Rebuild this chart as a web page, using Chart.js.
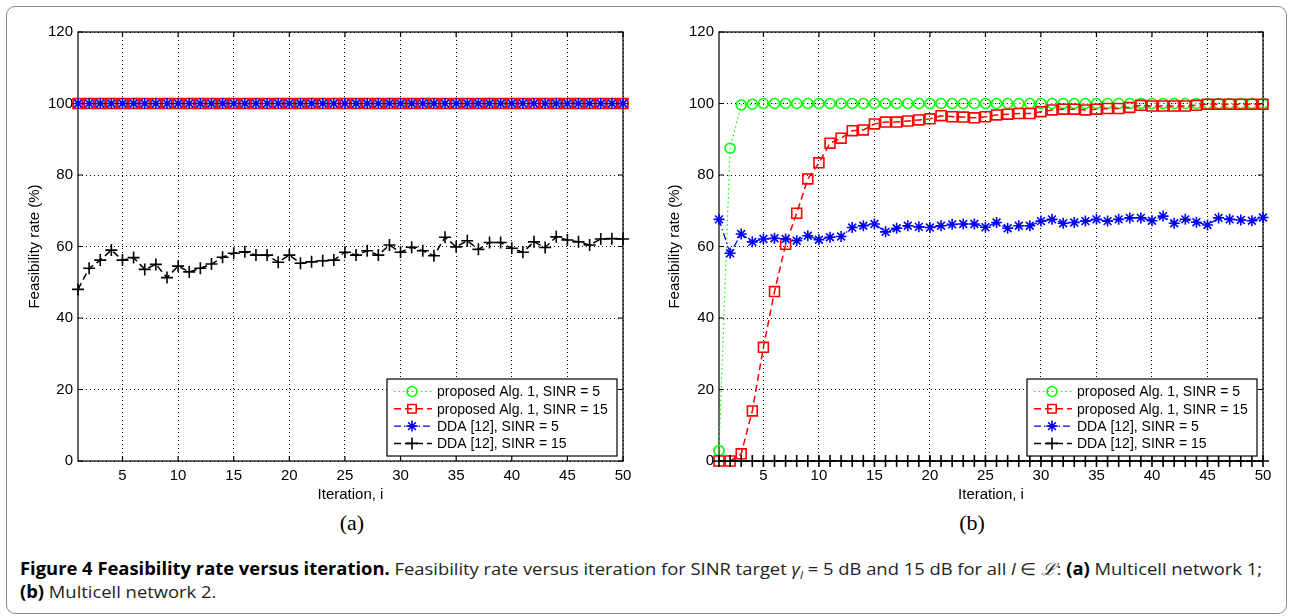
<!DOCTYPE html>
<html>
<head>
<meta charset="utf-8">
<script src="https://cdn.jsdelivr.net/npm/chart.js@4.4.0/dist/chart.umd.min.js"></script>
<style>
body{margin:0;background:#fff;width:1292px;height:616px;position:relative;overflow:hidden}
#frame{position:absolute;left:6px;top:6px;width:1281px;height:608px;border:1px solid #8c8c8c;border-radius:9px;box-sizing:border-box}
canvas{position:absolute;top:0}
#cA{left:0}
#cB{left:640px}
.sub{position:absolute;top:510px;width:60px;text-align:center;font:22px "Liberation Serif",serif;color:#000}
.cap{position:absolute;left:20px;font:17px "Open Sans",sans-serif;line-height:20px;color:#231f20;white-space:nowrap;transform-origin:0 0}
.cap b{color:#000}
</style>
</head>
<body>
<div id="frame"></div>
<canvas id="cA" width="645" height="510"></canvas>
<canvas id="cB" width="650" height="510"></canvas>
<div class="sub" style="left:322px">(a)</div>
<div class="sub" style="left:942px">(b)</div>
<div class="cap" id="cap1" style="top:559px"><b>Figure 4 Feasibility rate versus iteration.</b> Feasibility rate versus iteration for SINR target <i>γ</i><sub style="font-size:11px"><i>l</i></sub> = 5 dB and 15 dB for all <i>l</i> ∈ <i>ℒ</i>: <b>(a)</b> Multicell network 1;</div>
<div class="cap" id="cap2" style="top:582px"><b>(b)</b> Multicell network 2.</div>
<script>
/* DATA */
const iterations = [1,2,3,4,5,6,7,8,9,10,11,12,13,14,15,16,17,18,19,20,21,22,23,24,25,
26,27,28,29,30,31,32,33,34,35,36,37,38,39,40,41,42,43,44,45,46,47,48,49,50]
const xTicks = [5,10,15,20,25,30,35,40,45,50]
const yTicks = [0,20,40,60,80,100,120]
const seriesNames = ["proposed Alg. 1, SINR = 5","proposed Alg. 1, SINR = 15","DDA [12], SINR = 5","DDA [12], SINR = 15"]

// (a) Multicell network 1
const netA_alg5 = [100,100,100,100,100,100,100,100,100,100,100,100,100,100,100,100,100,100,100,100,100,100,100,100,100,
100,100,100,100,100,100,100,100,100,100,100,100,100,100,100,100,100,100,100,100,100,100,100,100,100]
const netA_alg15 = [100,100,100,100,100,100,100,100,100,100,100,100,100,100,100,100,100,100,100,100,100,100,100,100,100,
100,100,100,100,100,100,100,100,100,100,100,100,100,100,100,100,100,100,100,100,100,100,100,100,100]
const netA_dda5 = [100,100,100,100,100,100,100,100,100,100,100,100,100,100,100,100,100,100,100,100,100,100,100,100,100,
100,100,100,100,100,100,100,100,100,100,100,100,100,100,100,100,100,100,100,100,100,100,100,100,100]
const netA_dda15 = [48.0,53.9,56.2,59.0,56.2,56.9,53.6,55.0,51.3,54.5,52.9,53.9,55.1,57.0,58.1,58.5,57.6,57.6,55.6,57.6,
55.3,55.7,56.0,56.2,58.4,57.6,58.8,57.6,60.4,58.4,59.8,58.8,57.4,62.6,59.9,61.6,59.2,61.1,61.1,59.5,
58.4,61.3,59.7,62.7,61.8,61.3,60.4,62.1,62.2,62.1]

// (b) Multicell network 2
const netB_alg5 = [2.9,87.5,99.6,99.8,100,100,100,100,100,100,100,100,100,100,100,100,100,100,100,100,100,100,100,100,100,
100,100,100,100,100,100,100,100,100,100,100,100,100,100,100,100,100,100,100,100,100,100,100,100,100]
const netB_alg15 = [0,0,2.0,14.0,31.8,47.4,60.6,69.3,78.9,83.4,88.9,90.3,92.4,92.6,94.3,94.8,94.8,95.1,95.4,95.7,
96.6,96.3,96.2,96.0,96.3,96.8,97.0,97.2,97.2,97.7,98.2,98.4,98.4,98.2,98.4,98.6,98.6,98.9,99.5,99.3,
99.3,99.3,99.3,99.5,99.8,99.8,99.8,99.8,99.8,99.8]
const netB_dda5 = [67.6,58.1,63.5,61.3,62.1,62.3,62.1,61.6,63.0,61.9,62.6,62.8,65.3,65.8,66.3,64.1,65.1,65.8,65.5,65.3,
65.8,66.2,66.3,66.3,65.4,66.7,65.1,65.8,65.8,67.1,67.6,66.5,66.7,67.1,67.6,67.1,67.6,68.0,68.0,67.2,
68.5,66.5,67.6,66.8,66.0,68.0,67.6,67.4,67.2,68.1]
const netB_dda15 = [0,0,0,0,0,0,0,0,0,0,0,0,0,0,0,0,0,0,0,0,0,0,0,0,0,
0,0,0,0,0,0,0,0,0,0,0,0,0,0,0,0,0,0,0,0,0,0,0,0,0]

/* STYLE */
const FONT = "'Liberation Sans', Arial, sans-serif"
const styles = [
 {color:'#00ff00', dash:[1.5,3], point:'circle', r:5, lw:1.2},
 {color:'#ff0000', dash:[7,4], point:'rect', r:7, lw:1.5},
 {color:'#0000ff', dash:[7,3,1.5,3], point:'star', r:5.5, lw:1.3},
 {color:'#000000', dash:[7,4], point:'cross', r:6, lw:1.5}
]

function pts(vals){ return iterations.map((x,i)=>({x:x, y:vals[i]})) }

function buildSets(list){
 return list.map((vals,i)=>({
  label: seriesNames[i],
  data: pts(vals),
  order: 4-i,
  borderColor: styles[i].color,
  borderWidth: styles[i].lw,
  borderDash: styles[i].dash,
  pointStyle: styles[i].point,
  pointRadius: styles[i].r,
  pointBorderColor: styles[i].color,
  pointBackgroundColor: 'rgba(0,0,0,0)',
  pointBorderWidth: 1.6,
  tension: 0,
  clip: false
 }))
}

/* MARKER FOR LEGEND */
function marker(ctx, kind, x, y, r){
 ctx.beginPath()
 if(kind==='circle'){ ctx.arc(x,y,r,0,Math.PI*2) }
 else if(kind==='rect'){ let s=r*Math.SQRT1_2; ctx.rect(x-s,y-s,2*s,2*s) }
 else if(kind==='cross'){ ctx.moveTo(x-r,y);ctx.lineTo(x+r,y);ctx.moveTo(x,y-r);ctx.lineTo(x,y+r) }
 else if(kind==='star'){
  ctx.moveTo(x-r,y);ctx.lineTo(x+r,y);ctx.moveTo(x,y-r);ctx.lineTo(x,y+r)
  let d=r*Math.SQRT1_2
  ctx.moveTo(x-d,y-d);ctx.lineTo(x+d,y+d);ctx.moveTo(x-d,y+d);ctx.lineTo(x+d,y-d)
 }
 ctx.stroke()
}

/* AXES BOX + INWARD TICKS */
const framePlugin = {
 id:'frame',
 beforeDatasetsDraw(chart){
  const {ctx, chartArea:a, scales} = chart
  ctx.save()
  ctx.strokeStyle='#000'; ctx.lineWidth=1.2; ctx.setLineDash([])
  ctx.strokeRect(a.left,a.top,a.right-a.left,a.bottom-a.top)
  ctx.beginPath()
  xTicks.forEach(v=>{
   let px=scales.x.getPixelForValue(v)
   ctx.moveTo(px,a.bottom);ctx.lineTo(px,a.bottom-5)
   ctx.moveTo(px,a.top);ctx.lineTo(px,a.top+5)
  })
  yTicks.forEach(v=>{
   let py=scales.y.getPixelForValue(v)
   ctx.moveTo(a.left,py);ctx.lineTo(a.left+5,py)
   ctx.moveTo(a.right,py);ctx.lineTo(a.right-5,py)
  })
  ctx.stroke()
  ctx.restore()
 }
}

/* LEGEND INSIDE, BOTTOM RIGHT */
const boxLegend = {
 id:'boxLegend',
 afterDraw(chart){
  const {ctx, chartArea:a} = chart
  const w=230, h=77
  const L=a.right-6-w, T=a.bottom-5-h
  ctx.save()
  ctx.fillStyle='#fff'; ctx.fillRect(L,T,w,h)
  ctx.strokeStyle='#000'; ctx.lineWidth=1.2; ctx.setLineDash([]); ctx.strokeRect(L,T,w,h)
  chart.data.datasets.forEach((ds,i)=>{
   const y=T+12.5+i*17.3, st=styles[i]
   ctx.strokeStyle=st.color; ctx.lineWidth=st.lw; ctx.setLineDash(st.dash)
   ctx.beginPath(); ctx.moveTo(L+7,y); ctx.lineTo(L+45,y); ctx.stroke()
   ctx.setLineDash([]); ctx.lineWidth=1.6
   marker(ctx, st.point, L+25, y, st.point==='rect'?6:st.r)
   ctx.fillStyle='#000'; ctx.font='14px '+FONT
   ctx.textAlign='left'; ctx.textBaseline='middle'
   ctx.fillText(ds.label, L+50, y+1)
  })
  ctx.restore()
 }
}

function makeChart(id, sets, leftW, rightPad){
 return new Chart(document.getElementById(id),{
  type:'line',
  data:{datasets: buildSets(sets)},
  plugins:[framePlugin, boxLegend],
  options:{
   responsive:false, animation:false,
   layout:{padding:{top:32, right:rightPad, left:0, bottom:0}},
   plugins:{legend:{display:false}, tooltip:{enabled:false}},
   scales:{
    x:{type:'linear', min:1, max:50,
     afterBuildTicks: s=>{ s.ticks = xTicks.map(v=>({value:v})) },
     afterFit: s=>{ s.height = 49 },
     grid:{color:'#000', lineWidth:1, drawTicks:false},
     border:{display:false, dash:[1,3]},
     ticks:{padding:6, color:'#000', maxRotation:0, autoSkip:false, font:{family:FONT, size:15}},
     title:{display:true, text:'Iteration, i', color:'#000', font:{family:FONT, size:15}, padding:{top:0, bottom:6}}
    },
    y:{min:0, max:120,
     afterBuildTicks: s=>{ s.ticks = yTicks.map(v=>({value:v})) },
     afterFit: s=>{ s.width = leftW },
     grid:{color:'#000', lineWidth:1, drawTicks:false},
     border:{display:false, dash:[1,3]},
     ticks:{padding:5, color:'#000', font:{family:FONT, size:15}},
     title:{display:true, text:'Feasibility rate (%)', color:'#000', font:{family:FONT, size:15}, padding:{top:26, bottom:0}}
    }
   }
  }
 })
}

makeChart('cA', [netA_alg5, netA_alg15, netA_dda5, netA_dda15], 78, 22)
makeChart('cB', [netB_alg5, netB_alg15, netB_dda5, netB_dda15], 79, 27)

/* fit caption to the reference line length */
const c1=document.getElementById('cap1'), c2=document.getElementById('cap2')
const k=1242/c1.getBoundingClientRect().width
c1.style.transform='scaleX('+k+')'
c2.style.transform='scaleX('+k+')'
</script>
</body>
</html>
